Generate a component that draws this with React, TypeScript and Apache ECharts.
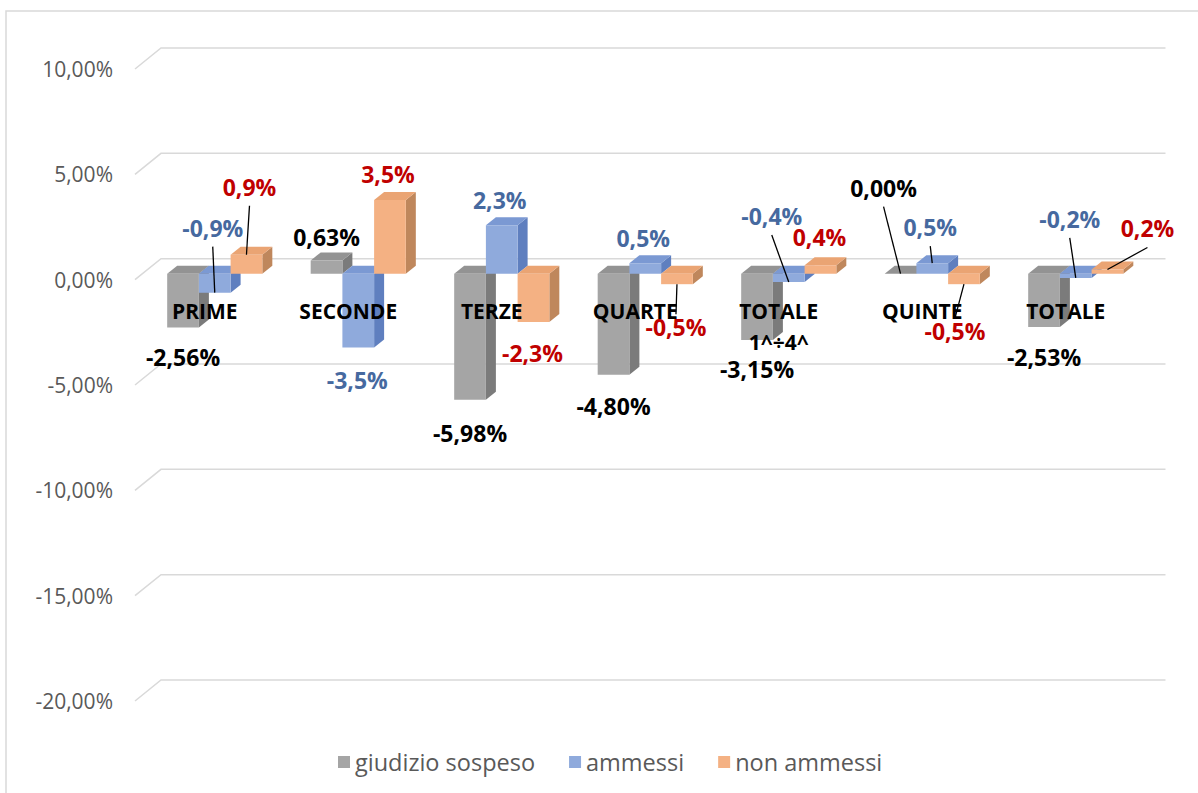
import React, { useEffect, useRef } from 'react';
import * as echarts from 'echarts';

// ---------- data ----------
const categories = ['PRIME', 'SECONDE', 'TERZE', 'QUARTE', 'TOTALE\n1^÷4^', 'QUINTE', 'TOTALE'];
const giudizioSospeso = [-2.56, 0.63, -5.98, -4.8, -3.15, 0.0, -2.53];
const ammessi = [-0.9, -3.5, 2.3, 0.5, -0.4, 0.5, -0.2];
const nonAmmessi = [0.9, 3.5, -2.3, -0.5, 0.4, -0.5, 0.2];
const yTicks = [10, 5, 0, -5, -10, -15, -20];
const seriesNames = ['giudizio sospeso', 'ammessi', 'non ammessi'];
const Y_MIN = -20;
const Y_MAX = 10;

// ---------- label placement (styling, pixel shifts from the default spot) ----------
const giudizioLabelShift = [[0, -1], [0, 1], [0, 3], [0, 1], [0, -1], [-17, -62], [0, 0]];
const giudizioLeader = [0, 0, 0, 0, 0, 1, 0];
const ammessiLabelShift = [[-2, -95], [-1, 3], [-2, -1], [-2, -1], [-17, -96], [-2, -12], [-6, -89]];
const ammessiLeader = [1, 0, 0, 0, 1, 1, 1];
const nonAmmessiLabelShift = [[3, -44], [-2, -2], [-1, 1], [-1, 13], [-1, -4], [-9, 17], [40, -17]];
const nonAmmessiLeader = [1, 0, 0, 1, 0, 1, 1];

// ---------- layout / 3D geometry (styling) ----------
const GRID_TOP = 69;
const GRID_BOTTOM = 92;
const CHART_H = 793;
const BAR_FRAC = 0.221;
const DXB = 10; // bar plane shift from front plane
const DYB = -6;
const DDX = 10; // bar depth
const DDY = -8;
const DXW = 28; // back wall shift
const DYW = -21;
const FONT = '"Open Sans", "Liberation Sans", sans-serif';

const fmt = (v: number, d: number) => v.toFixed(d).replace('.', ',') + '%';

function makeBarSeries(
  name: string,
  values: number[],
  k: number,
  colors: { front: string; top: string; side: string },
  labelColor: string,
  decimals: number,
  shifts: number[][],
  leaders: number[]
) {
  return {
    name,
    type: 'custom',
    coordinateSystem: 'cartesian2d',
    clip: false,
    z: 2,
    itemStyle: { color: colors.front },
    encode: { x: 0, y: 1 },
    data: values.map((v, i) => [i, v]),
    renderItem: (params: any, api: any) => {
      const i = api.value(0) as number;
      const v = api.value(1) as number;
      const p0 = api.coord([i, 0]);
      const p1 = api.coord([i, v]);
      const band = api.size([1, 0])[0];
      const w = band * BAR_FRAC;
      const x0 = p0[0] + DXB - 1.5 * w + k * w;
      const yZ = p0[1] + DYB;
      const yV = p1[1] + DYB;
      const yT = Math.min(yZ, yV);
      const yB = Math.max(yZ, yV);
      const cx = x0 + w / 2;
      const children: any[] = [];
      children.push({
        type: 'polygon',
        shape: { points: [[x0 + w, yT], [x0 + w + DDX, yT + DDY], [x0 + w + DDX, yB + DDY], [x0 + w, yB]] },
        style: { fill: colors.side },
      });
      children.push({
        type: 'polygon',
        shape: { points: [[x0, yT], [x0 + DDX, yT + DDY], [x0 + w + DDX, yT + DDY], [x0 + w, yT]] },
        style: { fill: colors.top },
      });
      children.push({
        type: 'rect',
        shape: { x: x0, y: yT, width: w, height: yB - yT },
        style: { fill: colors.front },
      });
      const sh = shifts[i] || [0, 0];
      const lx = cx + sh[0];
      const ly = (v >= 0 ? yT + DDY - 16 : yB + 30) + sh[1];
      if (leaders[i]) {
        const ex = cx;
        const ey = yV;
        const sy = ey > ly ? ly + 19 : ly - 13;
        children.push({
          type: 'line',
          shape: { x1: lx, y1: sy, x2: ex, y2: ey },
          style: { stroke: '#000000', lineWidth: 1.3 },
          z2: 99,
        });
      }
      children.push({
        type: 'text',
        x: lx,
        y: ly,
        z2: 100,
        style: {
          text: fmt(v, decimals),
          fill: labelColor,
          font: `bold 23px ${FONT}`,
          align: 'center',
          verticalAlign: 'middle',
        },
      });
      return { type: 'group', children };
    },
  };
}

export default function App() {
  const ref = useRef<HTMLDivElement>(null);
  useEffect(() => {
    if (!ref.current) return;
    const chart = echarts.init(ref.current, undefined, { renderer: 'svg' });
    const gridH = CHART_H - GRID_TOP - GRID_BOTTOM;
    // move the category axis up to the zero line of the value axis
    const zeroOffset = -(gridH * (0 - Y_MIN)) / (Y_MAX - Y_MIN);
    const option: any = {
      animation: false,
      backgroundColor: '#ffffff',
      textStyle: { fontFamily: FONT },
      graphic: [
        {
          type: 'rect',
          shape: { x: 6, y: 11, width: 1200, height: 800 },
          style: { fill: 'none', stroke: '#d9d9d9', lineWidth: 1.5 },
          silent: true,
        },
      ],
      grid: { left: 133, right: 60.5, top: GRID_TOP, bottom: GRID_BOTTOM, containLabel: false },
      legend: {
        data: seriesNames,
        left: 333,
        top: 745,
        icon: 'rect',
        itemWidth: 12,
        itemHeight: 12,
        itemGap: 34,
        textStyle: { fontSize: 23.5, color: '#595959', fontFamily: FONT },
        selectedMode: false,
      },
      xAxis: {
        type: 'category',
        data: categories,
        z: 10,
        offset: zeroOffset,
        axisLine: { show: false, onZero: false },
        axisTick: { show: false },
        splitLine: { show: false },
        axisLabel: {
          interval: 0,
          margin: 16,
          fontSize: 21,
          fontWeight: 'bold',
          color: '#000000',
          lineHeight: 31,
          fontFamily: FONT,
        },
      },
      yAxis: {
        type: 'value',
        min: Y_MIN,
        max: Y_MAX,
        interval: 5,
        axisLine: { show: false },
        axisTick: { show: false },
        splitLine: { show: false },
        axisLabel: {
          margin: 20,
          fontSize: 21,
          color: '#595959',
          fontFamily: FONT,
          formatter: (v: number) => fmt(v, 2),
        },
      },
      series: [
        {
          type: 'custom',
          name: 'wall',
          coordinateSystem: 'cartesian2d',
          clip: false,
          silent: true,
          z: 1,
          encode: { x: 0, y: 1 },
          data: yTicks.map((t) => [0, t]),
          renderItem: (params: any, api: any) => {
            const t = api.value(1) as number;
            const y = api.coord([0, t])[1];
            const cs = params.coordSys;
            return {
              type: 'polyline',
              shape: {
                points: [
                  [cs.x + 2, y],
                  [cs.x + DXW, y + DYW],
                  [cs.x + cs.width + DXW, y + DYW],
                ],
              },
              style: { stroke: '#d9d9d9', lineWidth: 1.5, fill: 'none' },
            };
          },
        },
        makeBarSeries(seriesNames[0], giudizioSospeso, 0, { front: '#a5a5a5', top: '#939393', side: '#7b7b7b' }, '#000000', 2, giudizioLabelShift, giudizioLeader),
        makeBarSeries(seriesNames[1], ammessi, 1, { front: '#8faadc', top: '#7b99d3', side: '#5f7fbf' }, '#46699f', 1, ammessiLabelShift, ammessiLeader),
        makeBarSeries(seriesNames[2], nonAmmessi, 2, { front: '#f4b183', top: '#eaa473', side: '#bf875c' }, '#c00000', 1, nonAmmessiLabelShift, nonAmmessiLeader),
      ],
    };
    chart.setOption(option);
    return () => chart.dispose();
  }, []);
  return (
    <div
      ref={ref}
      style={{ position: 'absolute', left: 0, top: 0, width: 1198, height: 793, background: '#fff' }}
    />
  );
}
